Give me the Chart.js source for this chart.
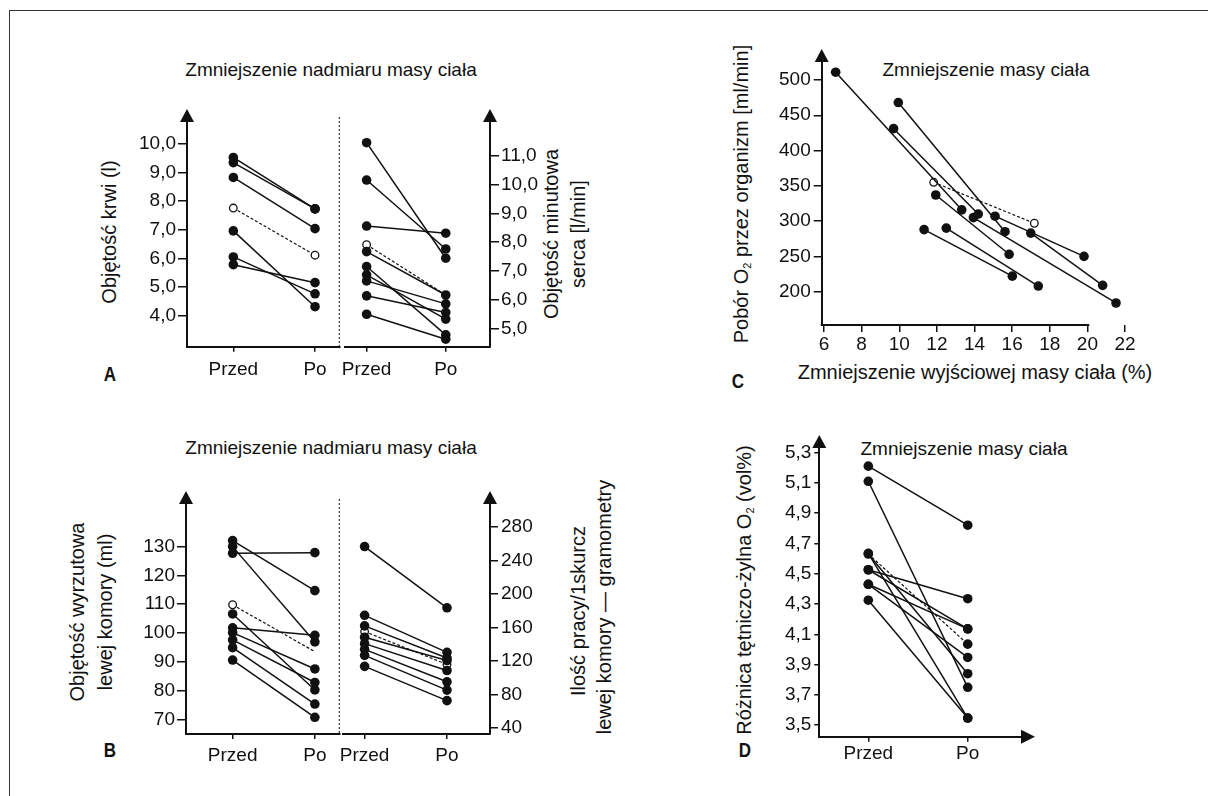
<!DOCTYPE html>
<html lang="pl">
<head>
<meta charset="UTF-8">
<title>Zmniejszenie masy ciała</title>
<script src="https://cdn.jsdelivr.net/npm/chart.js"></script>
<style>
  body { margin: 0; background: #fff; color: #111; font-family: 'Liberation Sans', Arial, sans-serif; }
  #fig { position: relative; width: 1208px; height: 796px; overflow: hidden; }
  .frame { position: absolute; left: 9px; top: 10px; width: 1400px; height: 1000px;
           border-left: 1.5px solid #333; border-top: 1.5px solid #333; }
  canvas { position: absolute; }
  .t { position: absolute; white-space: nowrap; font-size: 19px; transform: translate(-50%, -50%); }
  .v { font-size: 20px; transform: translate(-50%, -50%) rotate(-90deg); }
  .lt { font-weight: bold; font-size: 20px; transform: translate(-50%, -50%) scaleX(0.85); }
  sub { font-size: 11px; vertical-align: -3px; }
</style>
</head>
<body>
<div id="fig">
  <div class="frame"></div>

  <div class="t" style="left:331px;top:70px">Zmniejszenie nadmiaru masy ciała</div>
  <div class="t" style="left:331px;top:448px">Zmniejszenie nadmiaru masy ciała</div>
  <div class="t" style="left:986px;top:70px">Zmniejszenie masy ciała</div>
  <div class="t" style="left:964px;top:449px">Zmniejszenie masy ciała</div>

  <div class="t v" style="left:109px;top:232px">Objętość krwi (l)</div>
  <div class="t v" style="left:551px;top:234px">Objętość minutowa</div>
  <div class="t v" style="left:578px;top:234px">serca [l/min]</div>
  <div class="t v" style="left:77px;top:612px">Objętość wyrzutowa</div>
  <div class="t v" style="left:105px;top:612px">lewej komory (ml)</div>
  <div class="t v" style="left:578px;top:611px">Ilość pracy/1skurcz</div>
  <div class="t v" style="left:604px;top:607px">lewej komory — gramometry</div>
  <div class="t v" style="left:741px;top:194px">Pobór O<sub>2</sub> przez organizm [ml/min]</div>
  <div class="t v" style="left:744px;top:590px">Różnica tętniczo-żylna O<sub>2</sub> (vol%)</div>
  <div class="t" style="left:975px;top:372px;font-size:20px">Zmniejszenie wyjściowej masy ciała (%)</div>

  <div class="t lt" style="left:110px;top:374px">A</div>
  <div class="t lt" style="left:110px;top:750px">B</div>
  <div class="t lt" style="left:738px;top:381px">C</div>
  <div class="t lt" style="left:745px;top:750px">D</div>

  <canvas id="a1" width="215" height="290" style="left:130px;top:100px"></canvas>
  <canvas id="a2" width="226" height="290" style="left:334px;top:100px"></canvas>
  <canvas id="b1" width="215" height="300" style="left:130px;top:480px"></canvas>
  <canvas id="b2" width="226" height="300" style="left:334px;top:480px"></canvas>
  <canvas id="c" width="400" height="330" style="left:760px;top:40px"></canvas>
  <canvas id="d" width="300" height="340" style="left:760px;top:425px"></canvas>
</div>

<script>
// --- data ---
const phaseLabels = ['Przed', 'Po'];

// A: objętość krwi (l)
const przedA1 = [9.53, 9.35, 8.83, 6.96, 6.05, 5.78];
const poA1 = [7.73, 7.73, 7.04, 4.31, 4.76, 5.15];
const meanA1 = [7.76, 6.11];
const ticksA1 = [4, 5, 6, 7, 8, 9, 10];

// A: objętość minutowa serca (l/min)
const przedA2 = [11.46, 10.16, 8.56, 7.67, 7.15, 6.86, 6.65, 6.13, 5.49];
const poA2 = [7.44, 7.76, 8.31, 6.16, 4.77, 5.32, 5.85, 5.55, 4.62];
const meanA2 = [7.91, 6.16];
const ticksA2 = [5, 6, 7, 8, 9, 10, 11];

// B: objętość wyrzutowa lewej komory (ml)
const przedB1 = [132.1, 130.0, 127.7, 106.6, 101.8, 100.1, 97.6, 94.9, 90.6];
const poB1 = [114.7, 96.9, 127.9, 80.2, 99.2, 87.5, 82.8, 75.3, 70.7];
const meanB1 = [109.8, 93.5];
const ticksB1 = [70, 80, 90, 100, 110, 120, 130];

// B: ilość pracy / 1 skurcz (gramometry)
const przedB2 = [256.6, 174.5, 161.9, 148.3, 140.7, 133.9, 126.7, 113.6];
const poB2 = [183.5, 130.3, 123.5, 120.5, 108.6, 95.1, 85.2, 72.6];
const meanB2 = [155.1, 115.9];
const ticksB2 = [40, 80, 120, 160, 200, 240, 280];

// C: pobór O2 vs zmniejszenie masy ciała
const cStartX = [6.62, 9.70, 9.95, 11.94, 11.32, 12.5, 13.94, 15.09, 16.99];
const cStartY = [511, 431, 468, 337, 288, 290, 305, 307, 283];
const cEndX = [13.32, 14.2, 15.62, 15.84, 16.01, 17.39, 21.52, 19.82, 20.81];
const cEndY = [316, 310, 285, 253, 222, 208, 184, 250, 209];
const cMeanX = [11.83, 17.18];
const cMeanY = [355, 297];
const ticksCx = [6, 8, 10, 12, 14, 16, 18, 20, 22];
const ticksCy = [200, 250, 300, 350, 400, 450, 500];

// D: różnica tętniczo-żylna O2 (vol%)
const przedD = [5.21, 5.11, 4.634, 4.63, 4.526, 4.526, 4.43, 4.43, 4.325];
const poD = [4.82, 3.75, 3.547, 3.84, 4.335, 4.136, 4.136, 3.947, 3.547];
const meanD = [4.63, 4.035];
const ticksD = [3.5, 3.7, 3.9, 4.1, 4.3, 4.5, 4.7, 4.9, 5.1, 5.3];

// --- drawing ---
const INK = '#111';
const tickFont = { family: "'Liberation Sans', Arial, sans-serif", size: 19 };
const comma = v => v.toFixed(1).replace('.', ',');

const axisExtras = {
  id: 'axisExtras',
  afterDraw(chart, args, o) {
    const { ctx, chartArea: a } = chart;
    ctx.save();
    ctx.fillStyle = INK;
    ctx.strokeStyle = INK;
    (o.up || []).forEach(side => {
      const x = side === 'right' ? a.right : a.left;
      ctx.beginPath();
      ctx.moveTo(x, a.top - 11);
      ctx.lineTo(x - 7, a.top + 2);
      ctx.lineTo(x + 7, a.top + 2);
      ctx.fill();
    });
    if (o.rightArrow) {
      ctx.beginPath();
      ctx.moveTo(a.right + 13, a.bottom);
      ctx.lineTo(a.right - 1, a.bottom - 7);
      ctx.lineTo(a.right - 1, a.bottom + 7);
      ctx.fill();
    }
    if (o.divider) {
      ctx.lineWidth = 1;
      ctx.setLineDash([2, 2]);
      ctx.beginPath();
      ctx.moveTo(a.right, a.top - 3);
      ctx.lineTo(a.right, a.bottom);
      ctx.stroke();
      ctx.setLineDash([]);
    }
    if (o.xLineTo !== undefined) {
      ctx.lineWidth = 2;
      ctx.beginPath();
      ctx.moveTo(a.left - 1, a.bottom);
      ctx.lineTo(chart.scales.x.getPixelForValue(o.xLineTo), a.bottom);
      ctx.stroke();
    }
    ctx.restore();
  }
};
Chart.register(axisExtras);

function yAxis(c) {
  return {
    type: 'linear', position: c.pos || 'left', min: c.min, max: c.max,
    afterBuildTicks: s => { s.ticks = c.ticks.map(v => ({ value: v })); },
    afterFit: s => { s.width = c.width; },
    ticks: { callback: c.fmt || (v => v), font: tickFont, color: INK, padding: c.pad, autoSkip: false },
    grid: { drawOnChartArea: false, tickLength: c.tl, color: INK, lineWidth: 1.5 },
    border: { color: INK, width: 2 }
  };
}

function xAxis(c) {
  return {
    type: 'linear', min: c.min, max: c.max,
    afterBuildTicks: s => { s.ticks = c.ticks.map(v => ({ value: v })); },
    afterFit: s => { s.height = c.height; },
    ticks: { callback: c.fmt || (v => v), font: tickFont, color: INK, padding: c.pad, autoSkip: false, maxRotation: 0 },
    grid: { drawOnChartArea: false, tickLength: c.tl, color: INK, lineWidth: 1.5 },
    border: { display: c.border !== false, color: INK, width: 2 }
  };
}

const phaseAxis = (min, max, height, pad) => xAxis({
  min, max, height, pad, tl: 5, ticks: [0, 1], fmt: v => phaseLabels[v]
});

function segment(x0, y0, x1, y1) {
  return {
    data: [{ x: x0, y: y0 }, { x: x1, y: y1 }],
    showLine: true, borderColor: INK, backgroundColor: INK, borderWidth: 1.5,
    pointRadius: 4.8, pointBorderWidth: 0
  };
}

function meanSegment(x0, y0, x1, y1, radii, fill) {
  return {
    data: [{ x: x0, y: y0 }, { x: x1, y: y1 }],
    showLine: true, borderColor: INK, borderWidth: 1.2, borderDash: [3, 2],
    backgroundColor: fill || '#fff', pointRadius: radii, pointBorderColor: INK,
    pointBorderWidth: fill ? 0 : 1.3
  };
}

const pairs = (before, after) => before.map((b, i) => segment(0, b, 1, after[i]));

function makeChart(id, datasets, scales, padding, extras) {
  return new Chart(document.getElementById(id), {
    type: 'scatter',
    data: { datasets },
    options: {
      responsive: false, animation: false,
      layout: { padding },
      scales,
      plugins: { legend: { display: false }, tooltip: { enabled: false }, axisExtras: extras }
    }
  });
}

// Panel A
makeChart('a1',
  [...pairs(przedA1, poA1), meanSegment(0, meanA1[0], 1, meanA1[1], [3.8, 3.8])],
  {
    x: phaseAxis(-0.567, 1.297, 43.3, 7),
    y: yAxis({ min: 2.91, max: 10.84, ticks: ticksA1, fmt: comma, width: 57, tl: 9, pad: 2 })
  },
  { left: 0, right: 5.7, top: 20, bottom: 0 },
  { up: ['left'], divider: true });

makeChart('a2',
  [...pairs(przedA2, poA2), meanSegment(0, meanA2[0], 1, meanA2[1], [3.8, 0])],
  {
    x: phaseAxis(-0.272, 1.559, 43.3, 7),
    y: yAxis({ pos: 'right', min: 4.36, max: 12.25, ticks: ticksA2, fmt: comma, width: 70, tl: 9, pad: 2 })
  },
  { left: 5.3, right: 0, top: 20, bottom: 0 },
  { up: ['right'] });

// Panel B
makeChart('b1',
  [...pairs(przedB1, poB1), meanSegment(0, meanB1[0], 1, meanB1[1], [3.8, 0])],
  {
    x: phaseAxis(-0.567, 1.297, 46, 5),
    y: yAxis({ min: 64.9, max: 145.5, ticks: ticksB1, width: 56, tl: 9, pad: 2 })
  },
  { left: 0, right: 5.7, top: 22, bottom: 0 },
  { up: ['left'], divider: true });

makeChart('b2',
  [...pairs(przedB2, poB2), meanSegment(0, meanB2[0], 1, meanB2[1], [3.8, 3.8])],
  {
    x: phaseAxis(-0.266, 1.522, 46, 5),
    y: yAxis({ pos: 'right', min: 32.8, max: 309.8, ticks: ticksB2, width: 70, tl: 8, pad: 3 })
  },
  { left: 5.3, right: 0, top: 22, bottom: 0 },
  { up: ['right'] });

// Panel C
makeChart('c',
  [...cStartX.map((x, i) => segment(x, cStartY[i], cEndX[i], cEndY[i])),
   meanSegment(cMeanX[0], cMeanY[0], cMeanX[1], cMeanY[1], [3.8, 3.8])],
  {
    x: xAxis({ min: 5.878, max: 22.53, ticks: ticksCx, height: 45, tl: 7, pad: 1, border: false }),
    y: yAxis({ min: 152.8, max: 528.3, ticks: ticksCy, width: 61.7, tl: 8, pad: 3 })
  },
  { left: 0, right: 25, top: 20, bottom: 0 },
  { up: ['left'], xLineTo: 20.1 });

// Panel D
makeChart('d',
  [meanSegment(0, meanD[0], 1, meanD[1], [0, 4.8], INK), ...pairs(przedD, poD)],
  {
    x: phaseAxis(-0.493, 1.546, 28.3, 1),
    y: yAxis({ min: 3.424, max: 5.343, ticks: ticksD, fmt: comma, width: 59.3, tl: 5, pad: 3 })
  },
  { left: 0, right: 38, top: 21, bottom: 0 },
  { up: ['left'], rightArrow: true });
</script>
</body>
</html>
